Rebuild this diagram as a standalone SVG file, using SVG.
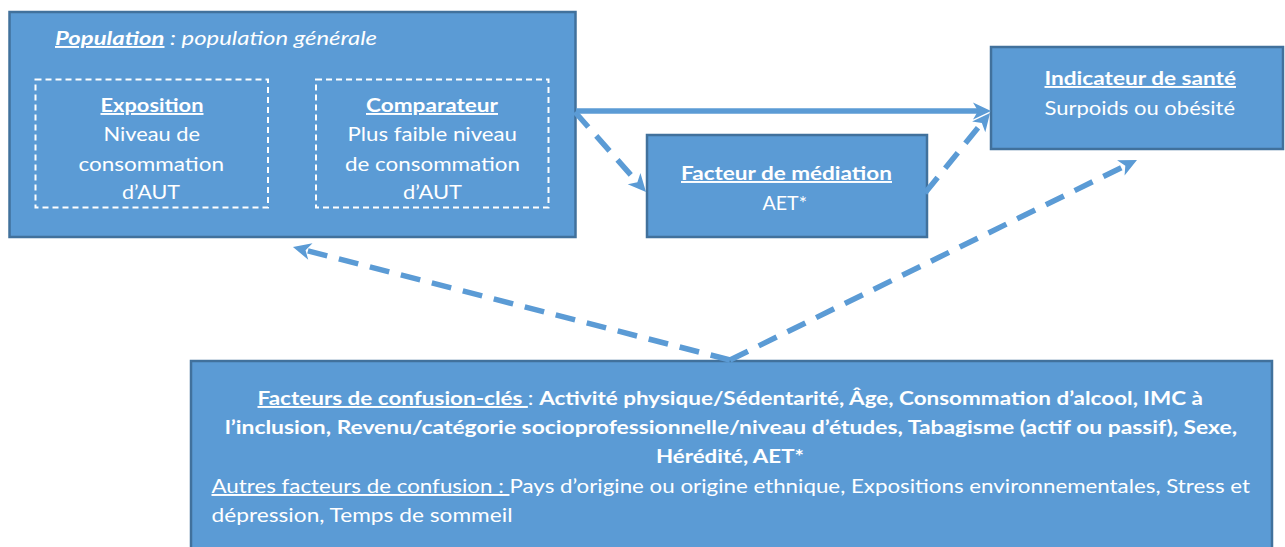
<svg xmlns="http://www.w3.org/2000/svg" width="1285" height="547" viewBox="0 0 1285 547">
  <style>
    .box { fill: #5B9BD5; stroke: #41719C; stroke-width: 2.5; }
    .inner { fill: none; stroke: #FFFFFF; stroke-width: 2; stroke-dasharray: 6 4; }
    text { font-family: Lato, "Open Sans", "Liberation Sans", sans-serif; font-size: 19.5px; fill: #FFFFFF; }
    .b { font-weight: bold; }
    .i { font-style: italic; }
    .u { text-decoration: underline; }
    .link { fill: none; stroke: #5B9BD5; stroke-width: 5.5; }
    .dash { stroke-dasharray: 20 12; }
  </style>
  <defs>
    <marker id="head" markerUnits="userSpaceOnUse" orient="auto" refX="0" refY="0" markerWidth="40" markerHeight="40" overflow="visible">
      <path d="M8,0 L-10,-8.5 L-5,0 L-10,8.5 Z" fill="#5B9BD5"/>
    </marker>
  </defs>

  <rect width="1285" height="547" fill="#FFFFFF"/>

  <!-- Population with exposure and comparator groups -->
  <g id="population">
    <rect class="box" x="9.5" y="12" width="566" height="225"/>
    <text class="i" x="55" y="45" textLength="322" lengthAdjust="spacingAndGlyphs"><tspan class="b u">Population</tspan> : population générale</text>
  </g>
  <g id="exposition">
    <rect class="inner" x="35.5" y="79.5" width="232.5" height="128"/>
    <text class="b u" x="100.5" y="112" textLength="103" lengthAdjust="spacingAndGlyphs">Exposition</text>
    <text x="103.5" y="141" textLength="96.5" lengthAdjust="spacingAndGlyphs">Niveau de</text>
    <text x="78.5" y="171" textLength="145.5" lengthAdjust="spacingAndGlyphs">consommation</text>
    <text x="122" y="199" textLength="58" lengthAdjust="spacingAndGlyphs">d’AUT</text>
  </g>
  <g id="comparateur">
    <rect class="inner" x="316" y="79.5" width="232.5" height="128"/>
    <text class="b u" x="366" y="112" textLength="132" lengthAdjust="spacingAndGlyphs">Comparateur</text>
    <text x="347.5" y="141" textLength="169.5" lengthAdjust="spacingAndGlyphs">Plus faible niveau</text>
    <text x="345" y="171" textLength="175" lengthAdjust="spacingAndGlyphs">de consommation</text>
    <text x="403" y="199" textLength="59" lengthAdjust="spacingAndGlyphs">d’AUT</text>
  </g>

  <!-- Health outcome -->
  <g id="indicateur">
    <rect class="box" x="991" y="47" width="292" height="102"/>
    <text class="b u" x="1044.5" y="85" textLength="191.5" lengthAdjust="spacingAndGlyphs">Indicateur de santé</text>
    <text x="1044.5" y="115" textLength="190.5" lengthAdjust="spacingAndGlyphs">Surpoids ou obésité</text>
  </g>

  <!-- Mediator -->
  <g id="mediation">
    <rect class="box" x="647" y="135" width="280" height="102"/>
    <text class="b u" x="681" y="180" textLength="211" lengthAdjust="spacingAndGlyphs">Facteur de médiation</text>
    <text x="762.5" y="210" textLength="44.5" lengthAdjust="spacingAndGlyphs">AET*</text>
  </g>

  <!-- Confounders -->
  <g id="confusion">
    <rect class="box" x="191" y="361" width="1081" height="200"/>
    <text class="b" x="257.5" y="405" textLength="945.5" lengthAdjust="spacingAndGlyphs"><tspan class="u">Facteurs de confusion-clés </tspan><tspan font-weight="normal">: </tspan>Activité physique/Sédentarité, Âge, Consommation d’alcool, IMC à</text>
    <text class="b" x="225" y="434" textLength="1012" lengthAdjust="spacingAndGlyphs">l’inclusion, Revenu/catégorie socioprofessionnelle/niveau d’études, Tabagisme (actif ou passif), Sexe,</text>
    <text class="b" x="656" y="463" textLength="148" lengthAdjust="spacingAndGlyphs">Hérédité, AET*</text>
    <text x="211.5" y="493" textLength="1038.5" lengthAdjust="spacingAndGlyphs"><tspan class="u">Autres facteurs de confusion : </tspan>Pays d’origine ou origine ethnique, Expositions environnementales, Stress et</text>
    <text x="211.5" y="522" textLength="301" lengthAdjust="spacingAndGlyphs">dépression, Temps de sommeil</text>
  </g>

  <!-- Connectors -->
  <g id="connectors">
    <line class="link" x1="576" y1="111" x2="983" y2="111" marker-end="url(#head)"/>
    <line class="link dash" x1="575" y1="112" x2="640.7" y2="186" marker-end="url(#head)"/>
    <line class="link dash" x1="925" y1="193" x2="985" y2="119.2" marker-end="url(#head)"/>
    <line class="link dash" x1="730" y1="360" x2="300.7" y2="249" marker-end="url(#head)"/>
    <line class="link dash" x1="730" y1="360" x2="1129.8" y2="163.5" marker-end="url(#head)"/>
  </g>
</svg>
